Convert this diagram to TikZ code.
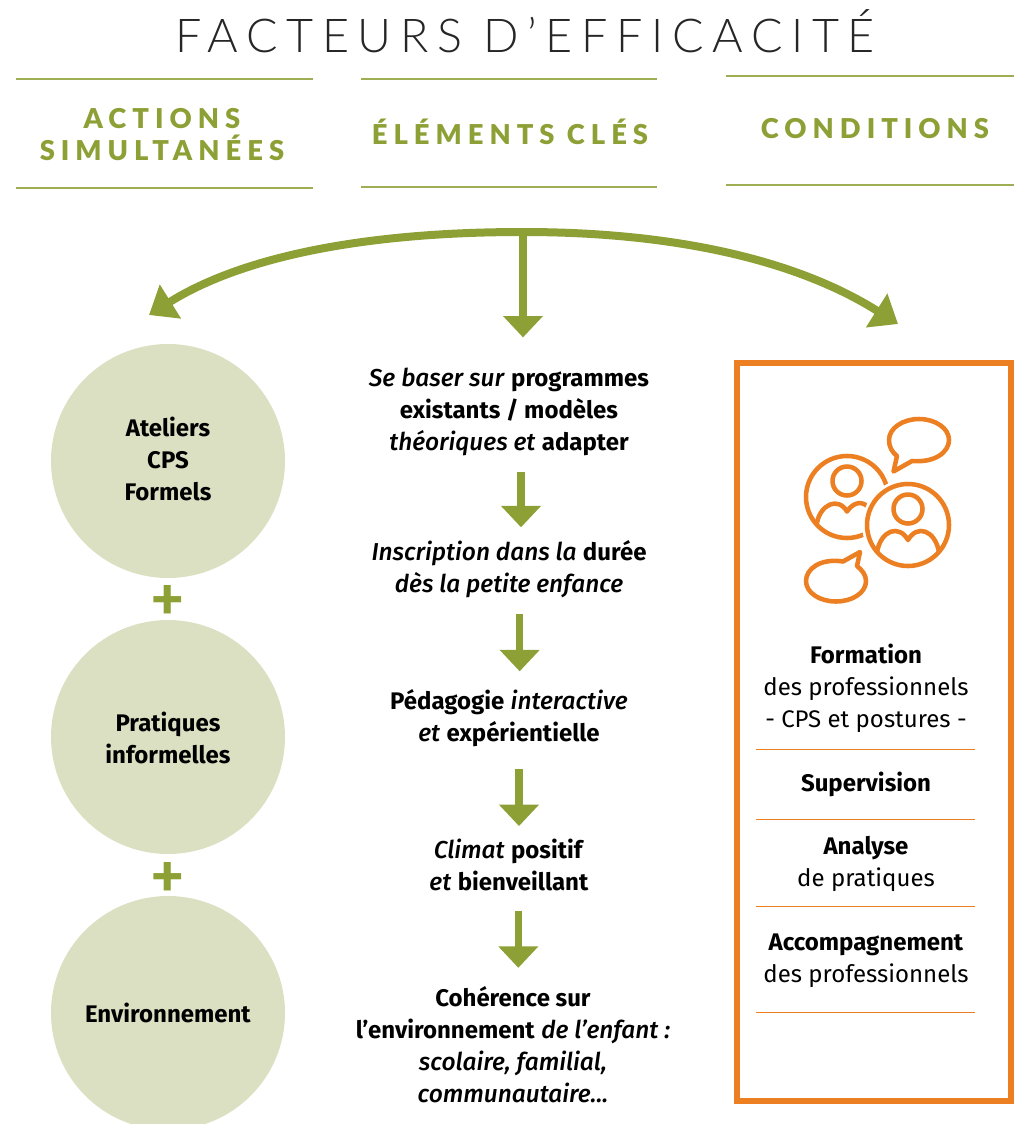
\documentclass[tikz,border=0pt]{standalone}
\usepackage{fontspec}
\setmainfont{Fira Sans}
\newfontfamily\titlefont[LetterSpace=18.5]{Lato Light}
\newfontfamily\headfont[LetterSpace=22]{Lato Black}
\newfontfamily\slantfont[Scale=1.02]{Fira Sans Medium Italic}
\newcommand{\slant}[1]{{\slantfont #1}}
\usetikzlibrary{arrows.meta}
\definecolor{leaf}{HTML}{8DA035}
\definecolor{leaflight}{HTML}{DCE0C2}
\definecolor{pumpkin}{HTML}{EC7F22}

\tikzset{
  rule/.style={leaf!85!white, line width=1pt},
  heading/.style={text=leaf, align=center, font=\headfont\fontsize{20.5}{24}\selectfont},
  flow/.style={leaf, line width=5.4pt, -{Triangle[width=29pt,length=16pt]}},
  sweep/.style={leaf, line width=6pt, -{Triangle[width=29pt,length=19pt]}},
  disc/.style={circle, fill=leaflight, minimum size=175.5pt, inner sep=0pt},
  disc text/.style={align=center, inner sep=0pt},
  step text/.style={align=center, inner sep=0pt, outer ysep=0pt},
  body/.style={font=\fontsize{18}{24}\selectfont},
  plus/.style={text=leaf, font=\headfont\fontsize{42}{42}\selectfont, inner sep=0pt},
  sep/.style={pumpkin, line width=.75pt},
  icon/.style={pumpkin, line width=3.4pt, line join=round},
}

\begin{document}
\begin{tikzpicture}[x=.75pt, y=-.75pt, every node/.append style={body}]
  \useasboundingbox (0,0) rectangle (1014,1124);

  % title and column heads
  \node[font=\titlefont\fontsize{35}{40}\selectfont, text=black!85] (title) at (525,31) {FACTEURS D’EFFICACITÉ};
  \draw[rule] (16,79) -- (313,79);
  \draw[rule] (16,188) -- (313,188);
  \draw[rule] (361,79) -- (657,79);
  \draw[rule] (361,187) -- (657,187);
  \draw[rule] (726,76) -- (1014,76);
  \draw[rule] (726,185) -- (1014,185);
  \node[heading] (actions) at (162,135) {ACTIONS\\SIMULTANÉES};
  \node[heading] (elements) at (510,131.5) {ÉLÉMENTS CLÉS};
  \node[heading] (conditions) at (875,129) {CONDITIONS};

  % left column
  \node[disc, label={[disc text, yshift=1.5pt]center:\textbf{Ateliers}\\\textbf{CPS}\\\textbf{Formels}}] (ateliers) at (168,461) {};
  \node[disc, label={[disc text, yshift=-.7pt]center:\textbf{Pratiques}\\\textbf{informelles}}] (pratiques) at (168,737) {};
  \node[disc, label={[disc text]center:\textbf{Environnement}}] (environnement) at (168,1013) {};
  \node[plus] (plusa) at (168,602) {+};
  \node[plus] (plusb) at (168,879) {+};

  % middle column
  \node[step text] (baser) at (509,412) {\slant{Se baser sur} \textbf{programmes}\\\textbf{existants / modèles}\\\slant{théoriques et} \textbf{adapter}};
  \node[step text] (duree) at (509,569) {\slant{Inscription dans la} \textbf{durée}\\\slant{dès la petite enfance}};
  \node[step text] (pedagogie) at (509,718) {\textbf{Pédagogie} \slant{interactive}\\\slant{et} \textbf{expérientielle}};
  \node[step text] (climat) at (509,865) {\slant{Climat} \textbf{positif}\\\slant{et} \textbf{bienveillant}};
  \node[step text] (coherence) at (513,1045) {\textbf{Cohérence sur}\\\textbf{l’environnement} \slant{de l’enfant :}\\\slant{scolaire, familial,}\\\slant{communautaire...}};

  \coordinate (top) at (523,232);
  \coordinate (lefthead) at (149,315);
  \coordinate (righthead) at (898,324);
  \draw[sweep] (top) .. controls (360,232) and (240,258) .. (lefthead);
  \draw[sweep] (top) .. controls (680,232) and (800,262) .. (righthead);
  \draw[flow, shorten >=23pt] (top) -- (top |- baser.north);
  \draw[flow, shorten <=11.75pt, shorten >=9.75pt] ([xshift=9pt]baser.south) -- ([xshift=9pt]duree.north);
  \draw[flow, shorten <=12.5pt, shorten >=13.5pt] ([xshift=8pt]duree.south) -- ([xshift=8pt]pedagogie.north);
  \draw[flow, shorten <=17pt, shorten >=9.75pt] ([xshift=7.5pt]pedagogie.south) -- ([xshift=7.5pt]climat.north);
  \draw[flow, shorten <=14.75pt, shorten >=14.25pt] ([xshift=7pt]climat.south) -- ([xshift=4pt]coherence.north);

  % right column
  \node[draw=pumpkin, line width=4.6pt, minimum width=205pt, minimum height=553pt, inner sep=0pt] (panel) at (874,732) {};
  \node[step text] (formation) at (866,688) {\textbf{Formation}\\des professionnels\\- CPS et postures -};
  \node[step text] (supervision) at (866,784) {\textbf{Supervision}};
  \node[step text] (analyse) at (866,864) {\textbf{Analyse}\\de pratiques};
  \node[step text] (accompagnement) at (866,961) {\textbf{Accompagnement}\\des professionnels};
  \draw[sep] (756,749) -- (975,749);
  \draw[sep] (756,819) -- (975,819);
  \draw[sep] (756,906) -- (975,906);
  \draw[sep] (756,1012) -- (975,1012);

  % people and speech bubbles
  \draw[icon] (847,497) circle[radius=41];
  \draw[icon] (847,481) circle[radius=14.5];
  \draw[icon] (817,523) .. controls (820,505) and (838,496) .. (847,511.5) .. controls (852,504) and (860,500) .. (867,506);
  \fill[white] (908,525) circle[radius=46];
  \draw[icon] (908,525) circle[radius=41];
  \draw[icon] (908,509) circle[radius=14.5];
  \draw[icon] (877,552) .. controls (881,530) and (899,524) .. (908,540) .. controls (917,524) and (935,530) .. (939,552);
  \draw[icon] (912,461) .. controls (935,463) and (949,452) .. (949,440) .. controls (949,428) and (935,419) .. (919,419) .. controls (903,419) and (889,428) .. (889,440) .. controls (889,447) and (892,452) .. (897,456) -- (893.5,471.5) -- cycle;
  \draw[icon] (843,561.5) .. controls (820,558) and (806,569) .. (806,581) .. controls (806,593) and (820,601.5) .. (836,601.5) .. controls (852,601.5) and (866,593) .. (866,581) .. controls (866,575) and (862,570) .. (857,566) -- (860,552) -- cycle;
\end{tikzpicture}
\end{document}
